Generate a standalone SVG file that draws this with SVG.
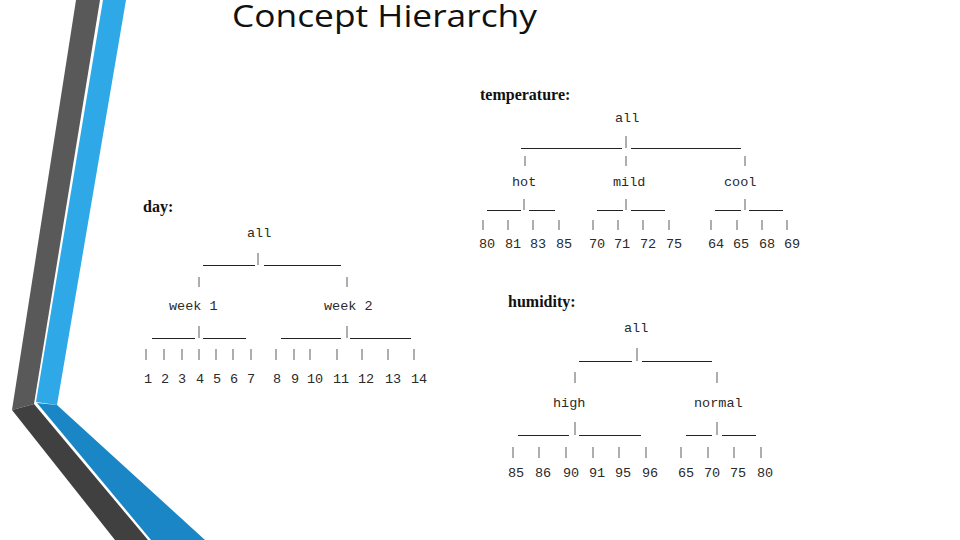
<svg xmlns="http://www.w3.org/2000/svg" width="960" height="540" viewBox="0 0 960 540">
<style>
.t{font-family:"Liberation Mono","DejaVu Sans Mono",monospace;font-size:13.5px;fill:#2a2a2a}
.h{font-family:"Liberation Serif","DejaVu Serif",serif;font-size:16px;font-weight:bold;fill:#111}
.hl{stroke:#222;stroke-width:1;fill:none}
.p{stroke:#9a9a9a;stroke-width:1.6;fill:none}
</style>
<rect width="960" height="540" fill="#fff"/>
<g id="decoration">
<polygon points="76,0 100,0 34,404 12,410" fill="#595959"/>
<polygon points="103,0 126,0 57,405 36,402" fill="#2ea8e6"/>
<polygon points="12,410 34,404 148,540 115,540" fill="#404040"/>
<polygon points="37,403 57,405 205,540 151,540" fill="#1a86c6"/>
</g>
<text x="232" y="27" font-family="'Open Sans','Liberation Sans',sans-serif" font-size="31" fill="#111" textLength="305" lengthAdjust="spacingAndGlyphs">Concept Hierarchy</text>

<!-- day tree -->
<g id="day-title"><text class="h" x="143" y="212">day:</text></g>
<g id="day-all"><text class="t" x="247" y="237">all</text></g>
<g id="day-week1"><text class="t" x="169" y="310">week 1</text></g>
<g id="day-week2"><text class="t" x="324" y="310">week 2</text></g>
<g id="day-leaves" class="t">
<text x="144" y="383">1</text><text x="161" y="383">2</text><text x="178" y="383">3</text><text x="196" y="383">4</text><text x="213" y="383">5</text><text x="230" y="383">6</text><text x="247" y="383">7</text>
<text x="273" y="383">8</text><text x="291" y="383">9</text><text x="307" y="383">10</text><text x="333" y="383">11</text><text x="358" y="383">12</text><text x="385" y="383">13</text><text x="411" y="383">14</text>
</g>
<g id="day-connectors">
<path class="hl" d="M203 265.5H255M264 265.5H341M152 338.5H195M203 338.5H246M281 338.5H341M350 338.5H411"/>
<path class="p" d="M258 253V265M199 277V287M347 277V287M199 326V338M347 326V338M146 349V360M164 349V360M182 349V360M199 349V360M216 349V360M233 349V360M251 349V360M276 349V360M294 349V360M310 349V360M337 349V360M362 349V360M388 349V360M414 349V360"/>
</g>

<!-- temperature tree -->
<g id="temp-title"><text class="h" x="480" y="100">temperature:</text></g>
<g id="temp-all"><text class="t" x="615" y="122">all</text></g>
<g id="temp-hot"><text class="t" x="512" y="186">hot</text></g>
<g id="temp-mild"><text class="t" x="613" y="186">mild</text></g>
<g id="temp-cool"><text class="t" x="724" y="186">cool</text></g>
<g id="temp-leaves" class="t">
<text x="479" y="248">80</text><text x="505" y="248">81</text><text x="530" y="248">83</text><text x="556" y="248">85</text>
<text x="589" y="248">70</text><text x="614" y="248">71</text><text x="640" y="248">72</text><text x="666" y="248">75</text>
<text x="708" y="248">64</text><text x="733" y="248">65</text><text x="759" y="248">68</text><text x="784" y="248">69</text>
</g>
<g id="temp-connectors">
<path class="hl" d="M521 148.5H622M631 148.5H741M487 210.5H521M529 210.5H555M597 210.5H623M631 210.5H665M715 210.5H741M749 210.5H783"/>
<path class="p" d="M626 136V148M525 156V166M626 156V166M745 156V166M524 199V210M626 199V210M745 199V210M483 220V230M508 220V230M533 220V230M559 220V230M593 220V230M618 220V230M643 220V230M669 220V230M711 220V230M737 220V230M762 220V230M787 220V230"/>
</g>

<!-- humidity tree -->
<g id="hum-title"><text class="h" x="508" y="307">humidity:</text></g>
<g id="hum-all"><text class="t" x="624" y="332">all</text></g>
<g id="hum-high"><text class="t" x="553" y="407">high</text></g>
<g id="hum-normal"><text class="t" x="694" y="407">normal</text></g>
<g id="hum-leaves" class="t">
<text x="508" y="477">85</text><text x="535" y="477">86</text><text x="563" y="477">90</text><text x="589" y="477">91</text><text x="615" y="477">95</text><text x="642" y="477">96</text>
<text x="678" y="477">65</text><text x="704" y="477">70</text><text x="730" y="477">75</text><text x="757" y="477">80</text>
</g>
<g id="hum-connectors">
<path class="hl" d="M579 361.5H632M642 361.5H712M518 435.5H569M579 435.5H641M686 435.5H712M722 435.5H756"/>
<path class="p" d="M637 348V361M575 372V383M717 372V383M575 422V435M717 422V435M513 447V458M539 447V458M566 447V458M593 447V458M619 447V458M646 447V458M681 447V458M708 447V458M734 447V458M761 447V458"/>
</g>
</svg>
